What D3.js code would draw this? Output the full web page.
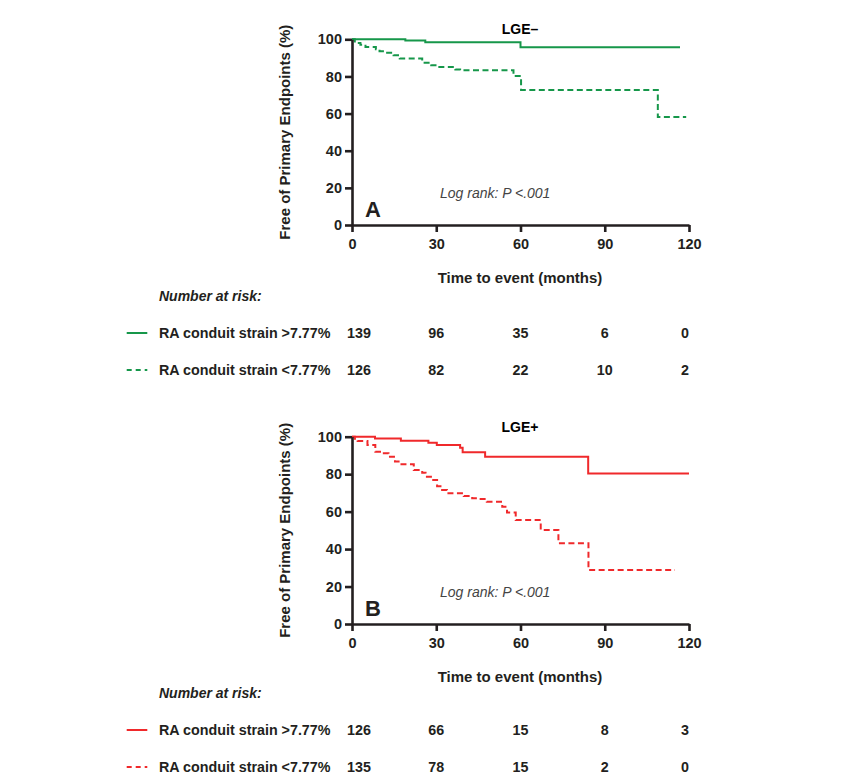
<!DOCTYPE html>
<html>
<head>
<meta charset="utf-8">
<script src="https://cdn.jsdelivr.net/npm/d3@7"></script>
<style>
  html, body { margin: 0; padding: 0; background: #fff; }
  svg { display: block; font-family: "Liberation Sans", Arial, Helvetica, sans-serif; }
</style>
</head>
<body>
<svg id="chart" width="867" height="783"></svg>
<script>
// ---------- DATA ----------
const xTicks = [0, 30, 60, 90, 120];
const yTicks = [0, 20, 40, 60, 80, 100];

// Panel A (LGE–)
const negHighTime = [0, 19, 26.1, 60, 116.8];
const negHighSurv = [100, 99.4, 98.4, 95.7, 95.7];
const negLowTime  = [0, 1.0, 3.0, 4.8, 8.5, 9.8, 11.5, 14.8, 17.0, 25.0, 28.2, 30.3, 36.8, 38.5, 57.5, 60.2, 108.9, 119];
const negLowSurv  = [100, 98.0, 97.1, 95.8, 94.6, 93.5, 92.8, 91.4, 89.6, 87.4, 86.0, 85.1, 83.8, 83.3, 80.2, 72.7, 58.2, 58.2];

// Panel B (LGE+)
const posHighTime = [0, 8.2, 17.4, 27.2, 30.2, 38.5, 39.4, 47.4, 84.1, 120];
const posHighSurv = [100, 99.1, 97.9, 96.8, 95.6, 94.1, 91.7, 89.3, 80.4, 80.4];
const posLowTime  = [0, 1.0, 2.0, 5.5, 8.3, 10.5, 13.0, 15.3, 17.0, 22.0, 25.0, 26.2, 28.5, 30.3, 31.5, 33.8, 39.8, 42.8, 45.0, 48.0, 53.5, 55.2, 58.3, 67.2, 73.5, 84.2, 115];
const posLowSurv  = [100, 98.9, 97.7, 95.6, 92.0, 91.1, 89.3, 86.7, 85.3, 82.2, 80.8, 78.6, 76.9, 73.5, 71.5, 69.8, 68.3, 67.1, 66.7, 65.3, 62.6, 59.5, 55.5, 50.2, 43.1, 28.8, 28.8];

// Number at risk
const riskTimes = [0, 30, 60, 90, 120];
const riskNegHigh = [139, 96, 35, 6, 0];
const riskNegLow  = [126, 82, 22, 10, 2];
const riskPosHigh = [126, 66, 15, 8, 3];
const riskPosLow  = [135, 78, 15, 2, 0];

const seriesLabels = ["RA conduit strain >7.77%", "RA conduit strain <7.77%"];
const panelTitles = ["LGE\u2013", "LGE+"];
const panelLetters = ["A", "B"];
const logRankText = "Log rank: P <.001";
const yLabel = "Free of Primary Endpoints (%)";
const xLabel = "Time to event (months)";
const riskTitle = "Number at risk:";

// ---------- DRAW ----------
const svg = d3.select("#chart");
svg.append("rect").attr("width", 867).attr("height", 783).attr("fill", "#fff");

const GREEN = "#16974a";
const RED = "#f0292b";
const INK = "#231f20";
const DASH = "6,3.5";

function zip(t, s) { return t.map((d, i) => ({ t: d, s: s[i] })); }

function drawPanel(cfg) {
  const x = d3.scaleLinear().domain([0, 120]).range([352, 689]);
  const y = d3.scaleLinear().domain([0, 100]).range([cfg.y0, cfg.y100]);
  const g = svg.append("g");

  // curves
  const line = d3.line().x(d => x(d.t)).y(d => y(d.s)).curve(d3.curveStepAfter);
  g.append("path").datum(zip(cfg.lowT, cfg.lowS))
    .attr("d", line).attr("fill", "none").attr("stroke", cfg.color)
    .attr("stroke-width", 2).attr("stroke-dasharray", DASH);
  g.append("path").datum(zip(cfg.highT, cfg.highS))
    .attr("d", line).attr("fill", "none").attr("stroke", cfg.color)
    .attr("stroke-width", 2);

  // axes
  const xAxis = d3.axisBottom(x).tickValues(xTicks).tickSize(7).tickSizeOuter(0).tickPadding(7);
  const yAxis = d3.axisLeft(y).tickValues(yTicks).tickSize(7).tickSizeOuter(0).tickPadding(3);
  const gx = g.append("g").attr("transform", `translate(0,${cfg.y0})`).call(xAxis);
  const gy = g.append("g").attr("transform", `translate(352,0)`).call(yAxis);
  [gx, gy].forEach(a => {
    a.select(".domain").attr("stroke", INK).attr("stroke-width", 2.6);
    a.selectAll(".tick line").attr("stroke", INK).attr("stroke-width", 2.6);
    a.selectAll(".tick text").attr("fill", INK).attr("font-size", 14.5).attr("font-weight", "bold")
      .attr("font-family", "'Liberation Sans', Arial, sans-serif");
  });

  // titles
  g.append("text").attr("x", 520).attr("y", cfg.y100 - 5).attr("text-anchor", "middle")
    .attr("font-size", 14).attr("font-weight", "bold").attr("fill", "#000").text(cfg.title);
  g.append("text").attr("x", 440).attr("y", cfg.y0 - 27)
    .attr("font-size", 14).attr("font-style", "italic").attr("fill", "#444").text(logRankText);
  g.append("text").attr("x", 365).attr("y", cfg.y0 - 8)
    .attr("font-size", 22).attr("font-weight", "bold").attr("fill", INK).text(cfg.letter);

  // axis labels
  g.append("text").attr("transform", `translate(290,${(cfg.y0 + cfg.y100) / 2}) rotate(-90)`)
    .attr("text-anchor", "middle").attr("font-size", 15).attr("font-weight", "bold")
    .attr("fill", INK).text(yLabel);
  g.append("text").attr("x", 520).attr("y", cfg.y0 + 58).attr("text-anchor", "middle")
    .attr("font-size", 15).attr("font-weight", "bold").attr("fill", INK).text(xLabel);

  // number at risk
  g.append("text").attr("x", 159).attr("y", cfg.riskY).attr("font-size", 14)
    .attr("font-weight", "bold").attr("font-style", "italic").attr("fill", INK).text(riskTitle);

  const rows = [
    { label: seriesLabels[0], vals: cfg.riskHigh, dash: null, yy: cfg.riskY + 37 },
    { label: seriesLabels[1], vals: cfg.riskLow, dash: "5,4", yy: cfg.riskY + 74 }
  ];
  rows.forEach(r => {
    const ln = g.append("line").attr("x1", 126.7).attr("x2", 147.3)
      .attr("y1", r.yy - 5).attr("y2", r.yy - 5)
      .attr("stroke", cfg.color).attr("stroke-width", 2);
    if (r.dash) ln.attr("stroke-dasharray", r.dash);
    g.append("text").attr("x", 159).attr("y", r.yy).attr("font-size", 14.3)
      .attr("font-weight", "bold").attr("fill", INK).text(r.label);
    g.selectAll(null).data(r.vals).enter().append("text")
      .attr("x", (d, i) => x(riskTimes[i]) + (i === 0 ? 7 : i === riskTimes.length - 1 ? -4 : 0))
      .attr("y", r.yy).attr("text-anchor", "middle").attr("font-size", 14.3)
      .attr("font-weight", "bold").attr("fill", INK).text(d => d);
  });
}

drawPanel({
  y0: 225, y100: 39.3, color: GREEN, title: panelTitles[0], letter: panelLetters[0],
  highT: negHighTime, highS: negHighSurv, lowT: negLowTime, lowS: negLowSurv,
  riskY: 301, riskHigh: riskNegHigh, riskLow: riskNegLow
});
drawPanel({
  y0: 624, y100: 436.7, color: RED, title: panelTitles[1], letter: panelLetters[1],
  highT: posHighTime, highS: posHighSurv, lowT: posLowTime, lowS: posLowSurv,
  riskY: 698, riskHigh: riskPosHigh, riskLow: riskPosLow
});
</script>
</body>
</html>
